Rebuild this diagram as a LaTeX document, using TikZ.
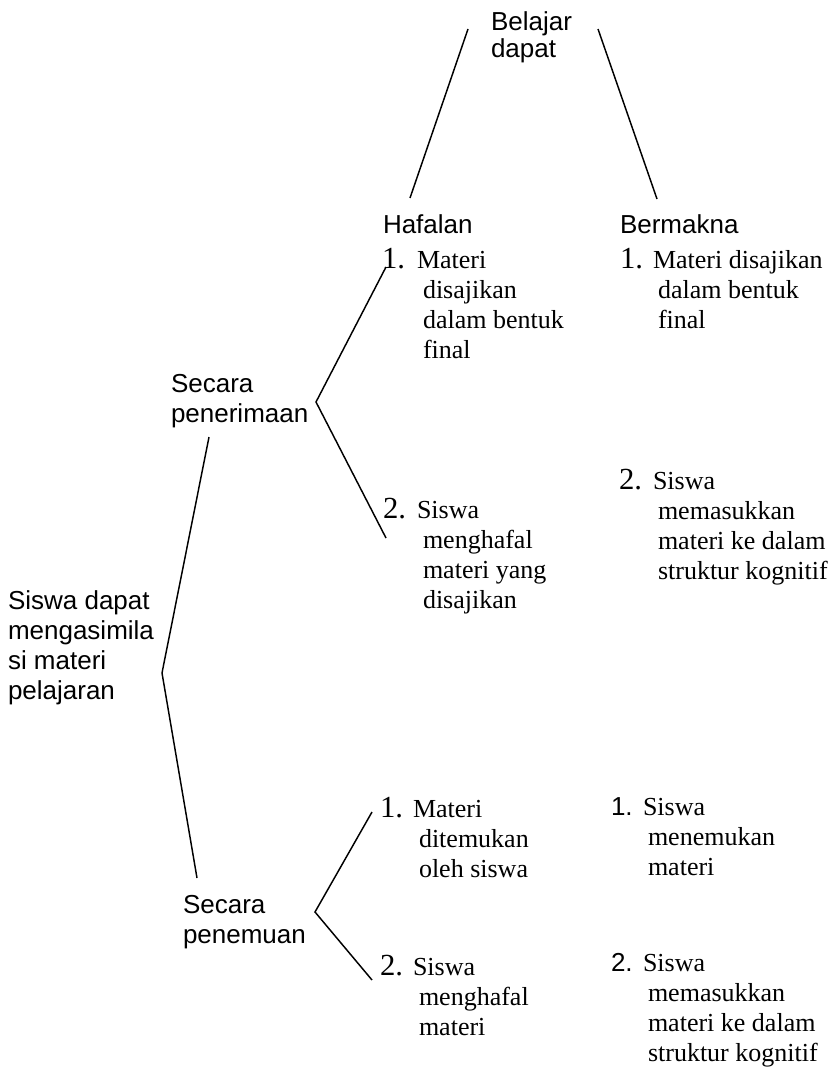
\documentclass[tikz,border=0pt]{standalone}
\usepackage{fontspec}
\setmainfont{Liberation Serif}
\setsansfont{Liberation Sans}
\newcommand\blk[1]{\begin{tabular}[t]{@{}l@{}}#1\end{tabular}}
\begin{document}
\begin{tikzpicture}[x=0.75pt,y=-0.75pt,
  txt/.style={inner sep=0pt,outer sep=0pt,anchor=base west},
  sanslbl/.style={txt,font=\fontsize{19.5}{22.5}\selectfont\sffamily},
  body/.style={txt,font=\fontsize{19.5}{22.5}\selectfont\rmfamily},
  num/.style={txt,font=\fontsize{23}{26}\selectfont\rmfamily},
  snum/.style={txt,font=\fontsize{19.5}{22.5}\selectfont\sffamily},
  link/.style={line width=1.1pt,line join=miter}]
\useasboundingbox (0,0) rectangle (838,1070);

% headings
\node[sanslbl,font=\fontsize{19.5}{19.5}\selectfont\sffamily] (belajar) at (491,31) {\blk{Belajar\\dapat}};
\node[sanslbl] (hafalan) at (383,233) {Hafalan};
\node[sanslbl] (bermakna) at (620,233) {Bermakna};
\node[sanslbl] (penerimaan) at (171,392) {\blk{Secara\\penerimaan}};
\node[sanslbl] (siswa) at (8,609) {\blk{Siswa dapat\\mengasimila\\si materi\\pelajaran}};
\node[sanslbl] (penemuan) at (183,913) {\blk{Secara\\penemuan}};

% Hafalan column
\node[num] (h1n) at (382,268) {1.};
\node[body] (h1) at (423,268) {\blk{\hspace*{-4.5pt}Materi\\disajikan\\dalam bentuk\\final}};
\node[num] (h2n) at (383,518) {2.};
\node[body] (h2) at (423,518) {\blk{\hspace*{-4.5pt}Siswa\\menghafal\\materi yang\\disajikan}};

% Bermakna column
\node[num] (b1n) at (620,268) {1.};
\node[body] (b1) at (658,268) {\blk{\hspace*{-3.75pt}Materi disajikan\\dalam bentuk\\final}};
\node[num] (b2n) at (619,489) {2.};
\node[body] (b2) at (658,489) {\blk{\hspace*{-3.75pt}Siswa\\memasukkan\\materi ke dalam\\struktur kognitif}};

% penemuan rows
\node[num] (p1n) at (380,817) {1.};
\node[body] (p1) at (419,817) {\blk{\hspace*{-4.5pt}Materi\\ditemukan\\oleh siswa}};
\node[num] (p2n) at (380,975) {2.};
\node[body] (p2) at (419,975) {\blk{\hspace*{-4.5pt}Siswa\\menghafal\\materi}};
\node[snum] (q1n) at (611,815) {1.};
\node[body] (q1) at (648,815) {\blk{\hspace*{-3.75pt}Siswa\\menemukan\\materi}};
\node[snum] (q2n) at (611,971) {2.};
\node[body] (q2) at (648,971) {\blk{\hspace*{-3.75pt}Siswa\\memasukkan\\materi ke dalam\\struktur kognitif}};

% connector end points
\coordinate (tla) at (468,29);
\coordinate (tlb) at (410,198);
\coordinate (tra) at (598,29);
\coordinate (trb) at (657,199);
\coordinate (bt) at (209,437);
\coordinate (bv) at (162,673);
\coordinate (bb) at (197,878);
\coordinate (pt) at (386,267);
\coordinate (pv) at (316,402);
\coordinate (pb) at (386,538);
\coordinate (mt) at (372,812);
\coordinate (mv) at (315,912);
\coordinate (mb) at (372,980);

\draw[link] (tla) -- (tlb);
\draw[link] (tra) -- (trb);
\draw[link] (bt) -- (bv) -- (bb);
\draw[link] (pt) -- (pv) -- (pb);
\draw[link] (mt) -- (mv) -- (mb);
\end{tikzpicture}
\end{document}
